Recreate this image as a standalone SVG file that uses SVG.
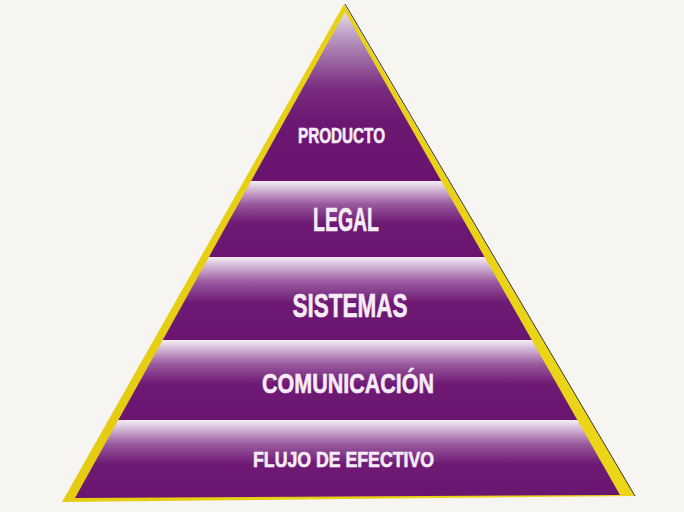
<svg xmlns="http://www.w3.org/2000/svg" width="684" height="512" viewBox="0 0 684 512">
<style>
.lbl{font-family:"Liberation Sans",Arial,sans-serif;font-weight:bold;fill:#f6ecf7;stroke:#f6ecf7;stroke-width:0.6;text-anchor:middle}
.band{fill:url(#bandGrad)}
</style>
<defs>
<linearGradient id="bandGrad" x1="0" y1="0" x2="0" y2="1">
<stop offset="0" stop-color="#f5edf6"/>
<stop offset="0.08" stop-color="#dcc7e0"/>
<stop offset="0.3" stop-color="#9a5a9f"/>
<stop offset="0.55" stop-color="#6e1a74"/>
<stop offset="1" stop-color="#6a1470"/>
</linearGradient>
<linearGradient id="topGrad" x1="0" y1="0" x2="0" y2="1">
<stop offset="0" stop-color="#e6dcea"/>
<stop offset="0.15" stop-color="#b898c0"/>
<stop offset="0.45" stop-color="#7a2c80"/>
<stop offset="0.65" stop-color="#6c1772"/>
<stop offset="1" stop-color="#6a1470"/>
</linearGradient>
<linearGradient id="yel" x1="0" y1="0" x2="1" y2="0">
<stop offset="0" stop-color="#e5cc12"/>
<stop offset="1" stop-color="#ecd618"/>
</linearGradient>
<clipPath id="tri">
<polygon points="345,12 620,495 75,498"/>
</clipPath>
</defs>
<rect width="684" height="512" fill="#f6f5f1"/>
<g id="frame">
<polygon points="344,4 635,496 62,502" fill="url(#yel)"/>
<line x1="345" y1="4" x2="635" y2="496" stroke="#3a3320" stroke-width="1"/>
</g>
<g clip-path="url(#tri)">
<g id="producto">
<rect x="60" y="12" width="580" height="169" fill="url(#topGrad)"/>
</g>
<g id="legal">
<rect class="band" x="60" y="181" width="580" height="76"/>
</g>
<g id="sistemas">
<rect class="band" x="60" y="257" width="580" height="83"/>
</g>
<g id="comunicacion">
<rect class="band" x="60" y="340" width="580" height="80"/>
</g>
<g id="flujo">
<rect class="band" x="60" y="420" width="580" height="80"/>
</g>
</g>
<g id="labels">
<text class="lbl" x="341.5" y="143" font-size="22" textLength="87" lengthAdjust="spacingAndGlyphs">PRODUCTO</text>
<text class="lbl" x="346" y="231" font-size="33" textLength="66" lengthAdjust="spacingAndGlyphs">LEGAL</text>
<text class="lbl" x="350" y="317" font-size="33" textLength="115" lengthAdjust="spacingAndGlyphs">SISTEMAS</text>
<text class="lbl" x="348" y="393" font-size="28" textLength="172" lengthAdjust="spacingAndGlyphs">COMUNICACIÓN</text>
<text class="lbl" x="343.5" y="467" font-size="21.5" textLength="181" lengthAdjust="spacingAndGlyphs">FLUJO DE EFECTIVO</text>
</g>
</svg>
